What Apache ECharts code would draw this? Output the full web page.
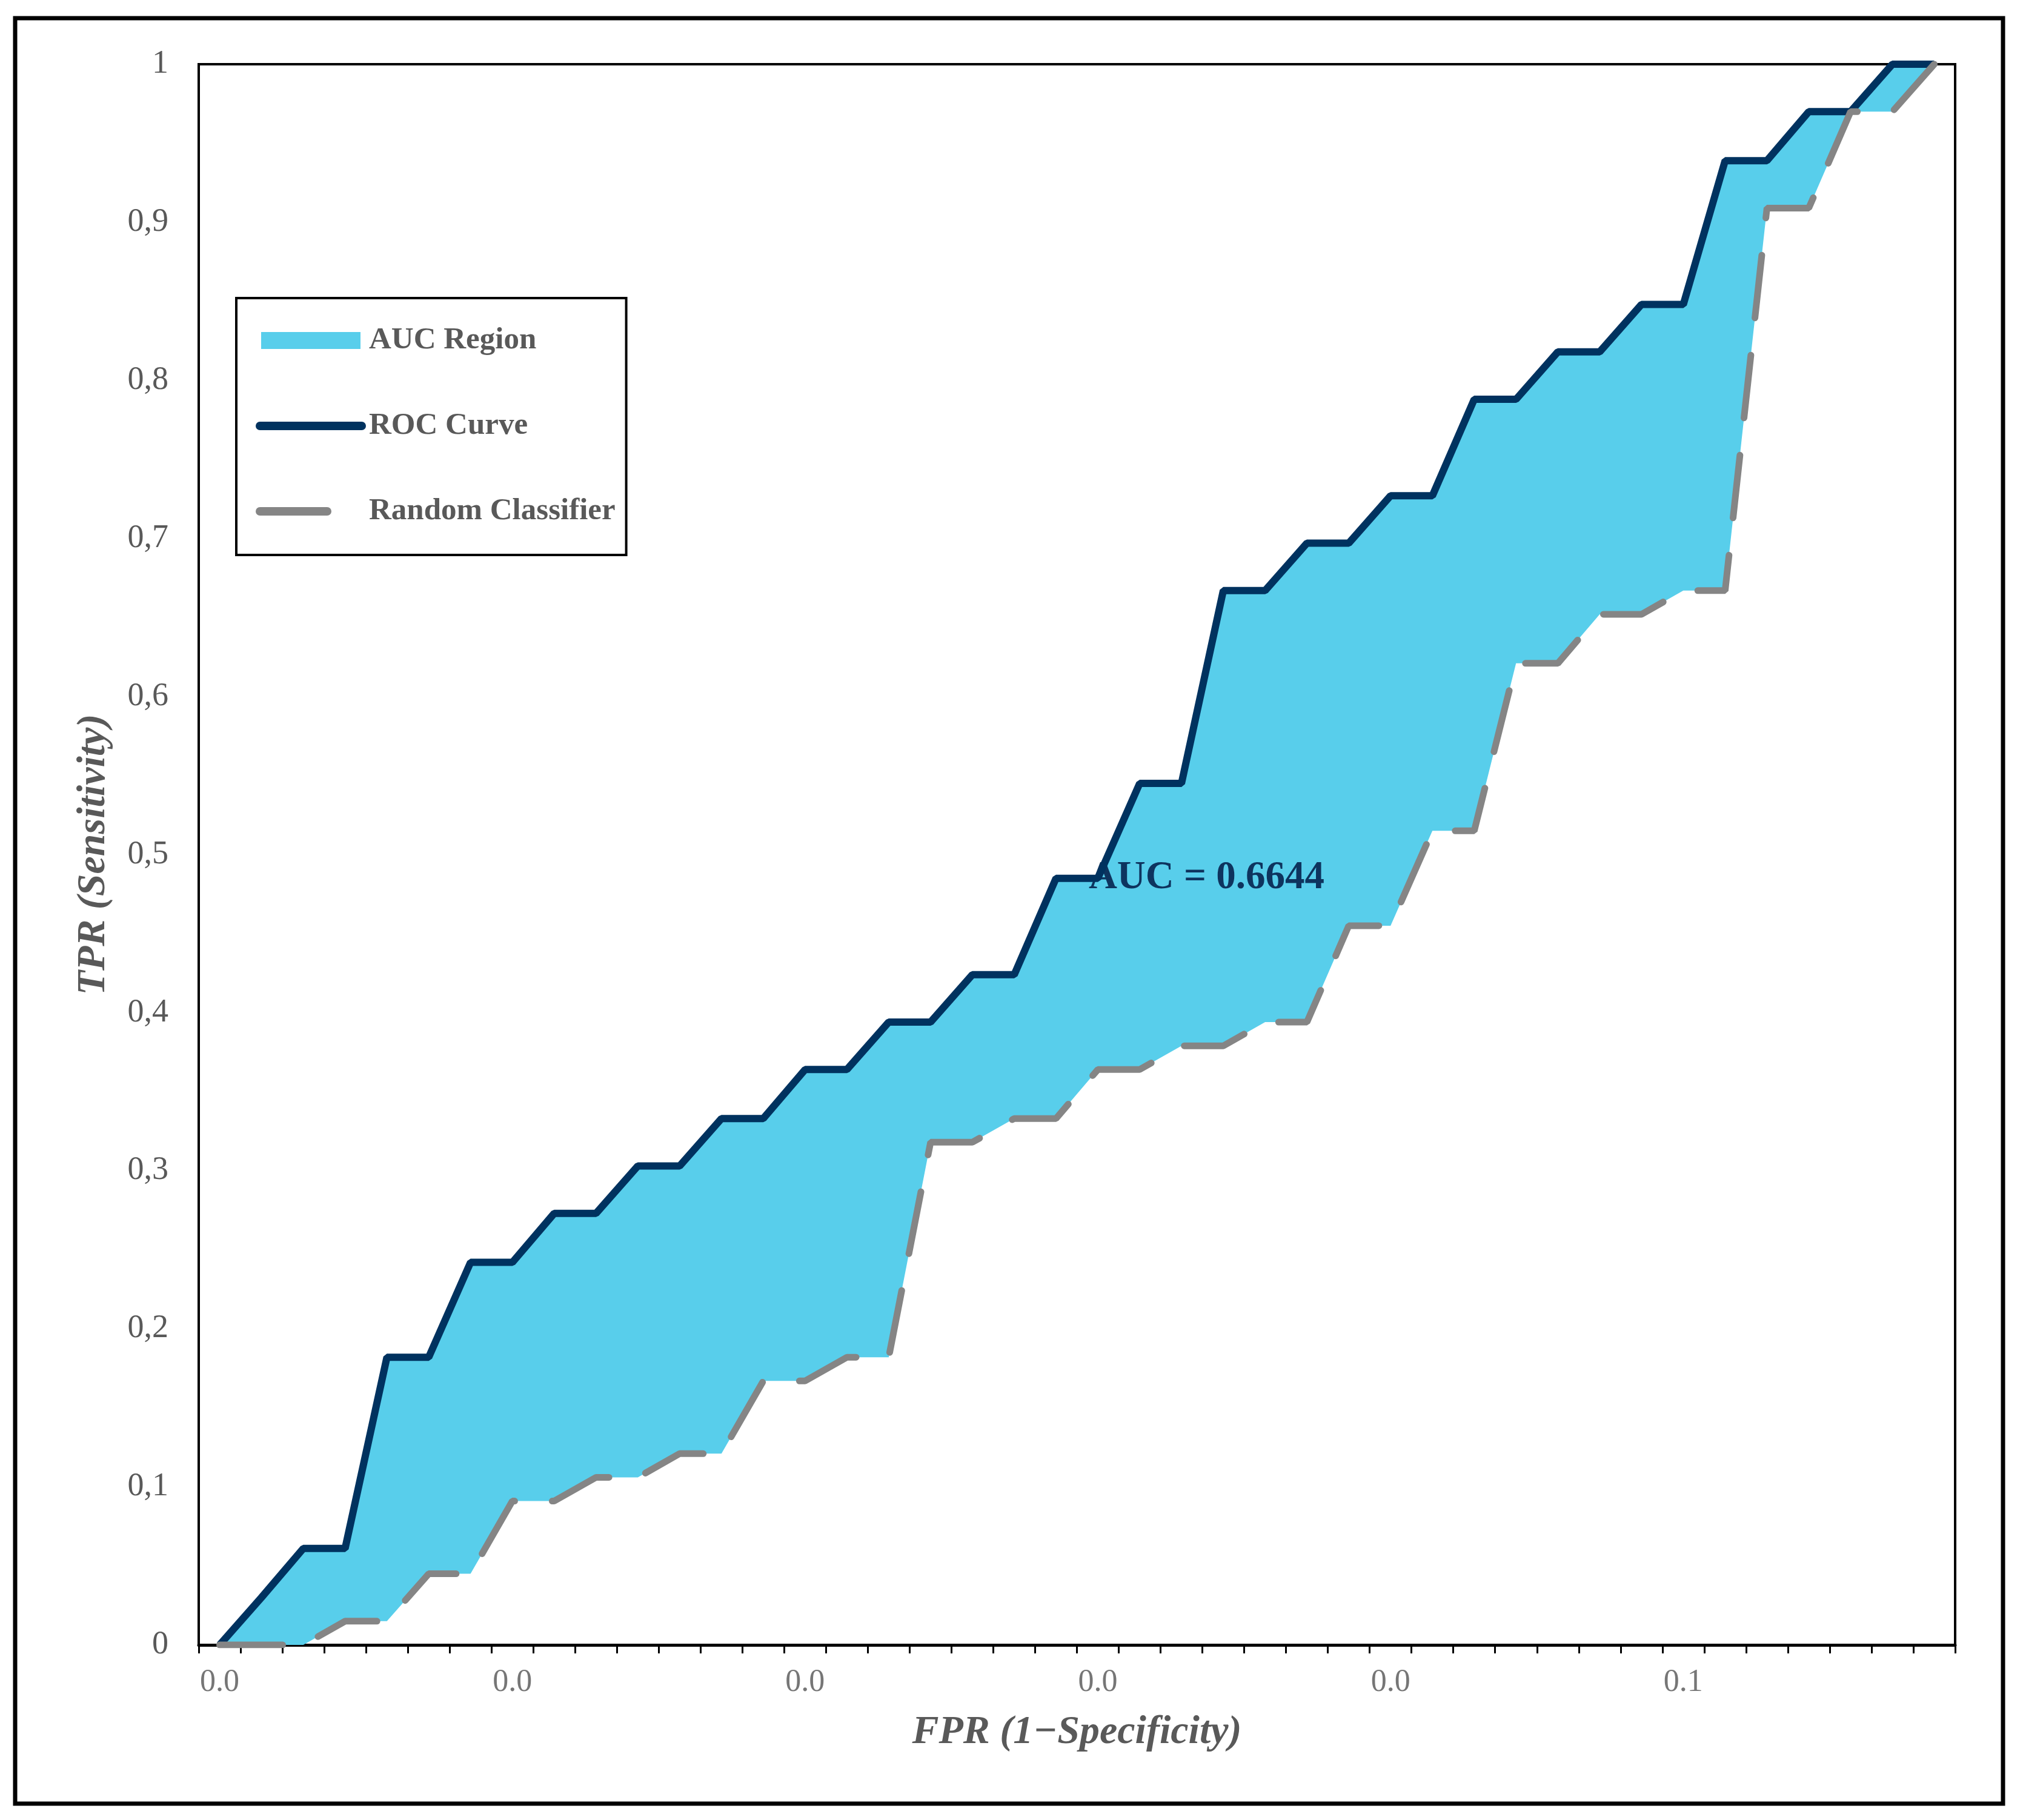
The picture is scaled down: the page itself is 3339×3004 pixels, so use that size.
<!DOCTYPE html>
<html>
<head>
<meta charset="utf-8">
<title>ROC Curve</title>
<script src="https://cdn.jsdelivr.net/npm/echarts@6/dist/echarts.min.js"></script>
<style>
  html, body { margin: 0; padding: 0; background: #fff; }
  #chart { width: 3339px; height: 3004px; }
</style>
</head>
<body>
<div id="chart"></div>
<script>
// FPR categories as Excel printed them (one decimal, so most read 0.0)
const fprLabels = [
  '0.0', '0.0', '0.0', '0.0', '0.0', '0.0', '0.0',
  '0.0', '0.0', '0.0', '0.0', '0.0', '0.0', '0.0',
  '0.0', '0.0', '0.0', '0.0', '0.0', '0.0', '0.0',
  '0.0', '0.0', '0.0', '0.0', '0.0', '0.0', '0.0',
  '0.0', '0.0', '0.0', '0.0', '0.0', '0.0', '0.0',
  '0.1', '0.1', '0.1', '0.1', '0.1', '0.1', '0.1'
];

// TPR of the model
const rocTpr = [
  0, 0.030, 0.061, 0.061, 0.182, 0.182, 0.242, 0.242, 0.273, 0.273,
  0.303, 0.303, 0.333, 0.333, 0.364, 0.364, 0.394, 0.394, 0.424, 0.424,
  0.485, 0.485, 0.545, 0.545, 0.667, 0.667, 0.697, 0.697, 0.727, 0.727,
  0.788, 0.788, 0.818, 0.818, 0.848, 0.848, 0.939, 0.939, 0.970, 0.970,
  1, 1
];

// TPR of the random classifier
const randomTpr = [
  0, 0, 0, 0.015, 0.015, 0.045, 0.045, 0.091, 0.091, 0.106,
  0.106, 0.121, 0.121, 0.167, 0.167, 0.182, 0.182, 0.318, 0.318, 0.333,
  0.333, 0.364, 0.364, 0.379, 0.379, 0.394, 0.394, 0.455, 0.455, 0.515,
  0.515, 0.621, 0.621, 0.652, 0.652, 0.667, 0.667, 0.909, 0.909, 0.970,
  0.970, 1
];

const aucText = 'AUC = 0.6644';
const aucAnchor = [23.6, 0.485]; // category index, TPR

const fillColor = '#58CEEB';
const rocColor = '#00325F';
const randomColor = '#858585';
const textGray = '#595959';
const serif = '"Liberation Serif", "Times New Roman", serif';

// band between the two curves, stacked on top of the random line
const aucBand = rocTpr.map((v, i) => +(v - randomTpr[i]).toFixed(3));

// legend box layout (Excel style swatches are drawn by hand below)
const legendLeft = 390;
const legendTop = 492;
const legendPad = [42, 18, 44, 32];
const legendRowH = 56;
const legendGap = 85;
const rowMid = i => legendTop + legendPad[0] + i * (legendRowH + legendGap) + legendRowH / 2;
const swatchX = legendLeft + legendPad[3];

const chart = echarts.init(document.getElementById('chart'));

const titleStyle = {
  fontFamily: serif,
  fontStyle: 'italic',
  fontWeight: 'bold',
  fontSize: 66,
  color: textGray
};

const option = {
  animation: false,
  backgroundColor: '#fff',
  grid: {
    left: 328,
    right: 112,
    top: 106,
    bottom: 289,
    show: true,
    borderColor: '#000',
    borderWidth: 4,
    containLabel: false
  },
  legend: {
    orient: 'vertical',
    left: legendLeft,
    top: legendTop,
    padding: legendPad,
    itemWidth: 182,
    itemHeight: 28,
    itemGap: legendGap,
    borderColor: '#000',
    borderWidth: 4,
    backgroundColor: '#fff',
    selectedMode: false,
    icon: 'none',
    textStyle: {
      fontFamily: serif,
      fontWeight: 'bold',
      fontSize: 51,
      lineHeight: legendRowH,
      color: textGray
    },
    data: ['AUC Region', 'ROC Curve', 'Random Classifier']
  },
  xAxis: {
    type: 'category',
    data: fprLabels,
    boundaryGap: true,
    name: 'FPR (1\u2212Specificity)',
    nameLocation: 'middle',
    nameGap: 112,
    nameTextStyle: titleStyle,
    axisLine: { show: true, lineStyle: { color: '#000', width: 5 } },
    axisTick: {
      show: true,
      interval: 0,
      alignWithLabel: false,
      length: 14,
      lineStyle: { color: '#000', width: 3 }
    },
    axisLabel: {
      interval: 6,
      margin: 36,
      fontFamily: serif,
      fontSize: 52,
      color: '#767676'
    },
    splitLine: { show: false }
  },
  yAxis: {
    type: 'value',
    min: 0,
    max: 1,
    interval: 0.1,
    name: 'TPR (Sensitivity)',
    nameLocation: 'middle',
    nameGap: 140,
    nameTextStyle: titleStyle,
    axisLine: { show: true, lineStyle: { color: '#000', width: 4 } },
    axisTick: { show: false },
    axisLabel: {
      margin: 50,
      fontFamily: serif,
      fontSize: 54,
      color: textGray,
      formatter: v => (v === 0 || v === 1) ? String(v) : v.toFixed(1).replace('.', ',')
    },
    splitLine: { show: false }
  },
  series: [
    {
      name: 'base',
      type: 'line',
      stack: 'auc',
      data: randomTpr,
      symbol: 'none',
      z: 1,
      lineStyle: { width: 0 },
      silent: true
    },
    {
      name: 'AUC Region',
      type: 'line',
      stack: 'auc',
      data: aucBand,
      symbol: 'none',
      z: 1,
      itemStyle: { color: fillColor },
      lineStyle: { width: 0 },
      areaStyle: { color: fillColor, opacity: 1 },
      silent: true
    },
    {
      name: 'ROC Curve',
      type: 'line',
      data: rocTpr,
      symbol: 'none',
      z: 3,
      itemStyle: { color: rocColor },
      lineStyle: { color: rocColor, width: 12 }
    },
    {
      name: 'Random Classifier',
      type: 'line',
      data: randomTpr,
      symbol: 'none',
      z: 3,
      itemStyle: { color: randomColor },
      lineStyle: {
        color: randomColor,
        width: 11,
        type: [104, 62],
        cap: 'round'
      }
    }
  ],
  graphic: [
    {
      id: 'frame',
      type: 'rect',
      shape: { x: 25, y: 30, width: 3281, height: 2947 },
      style: { fill: 'none', stroke: '#000', lineWidth: 7 },
      silent: true
    },
    {
      id: 'swatchAuc',
      type: 'rect',
      z: 10,
      shape: { x: swatchX + 9, y: rowMid(0) - 14, width: 164, height: 28 },
      style: { fill: fillColor },
      silent: true
    },
    {
      id: 'swatchRoc',
      type: 'line',
      z: 10,
      shape: { x1: swatchX + 7, y1: rowMid(1), x2: swatchX + 175, y2: rowMid(1) },
      style: { stroke: rocColor, lineWidth: 14, lineCap: 'round' },
      silent: true
    },
    {
      id: 'swatchRandom',
      type: 'line',
      z: 10,
      shape: { x1: swatchX + 7, y1: rowMid(2), x2: swatchX + 118, y2: rowMid(2) },
      style: { stroke: randomColor, lineWidth: 14, lineCap: 'round' },
      silent: true
    }
  ]
};

chart.setOption(option);

// AUC annotation sits between two categories, so interpolate its pixel x
const lo = Math.floor(aucAnchor[0]);
const frac = aucAnchor[0] - lo;
const p0 = chart.convertToPixel({ gridIndex: 0 }, [lo, aucAnchor[1]]);
const p1 = chart.convertToPixel({ gridIndex: 0 }, [lo + 1, aucAnchor[1]]);

chart.setOption({
  graphic: [
    {
      id: 'aucLabel',
      type: 'text',
      x: p0[0] + frac * (p1[0] - p0[0]),
      y: p0[1],
      z: 2,
      silent: true,
      style: {
        text: aucText,
        fontFamily: serif,
        fontWeight: 'bold',
        fontSize: 65,
        fill: '#0E345E',
        align: 'center',
        verticalAlign: 'middle'
      }
    }
  ]
});

window.addEventListener('resize', () => chart.resize());
</script>
</body>
</html>
